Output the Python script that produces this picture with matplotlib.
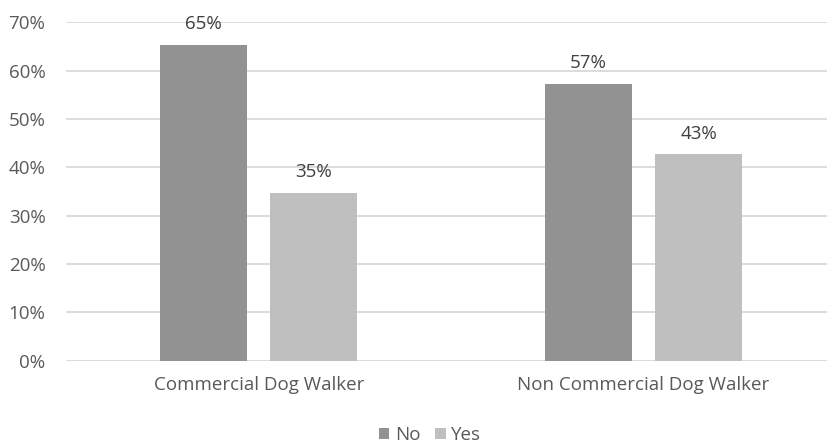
import matplotlib.pyplot as plt
import numpy as np
from matplotlib.ticker import PercentFormatter

categories = ['Commercial Dog Walker', 'Non Commercial Dog Walker']
series_names = ['No', 'Yes']
no_vals = [65.3, 57.3]
yes_vals = [34.7, 42.7]
value_labels = [['65%', '57%'], ['35%', '43%']]

colors = ['#929292', '#bfbfbf']
text_color = '#595959'

plt.rcParams['font.family'] = ['Open Sans', 'DejaVu Sans']

fig = plt.figure(figsize=(8.27, 4.47), dpi=100)
ax = fig.add_axes([66.3 / 827, 0.193, (835.9 - 66.3) / 827, 0.757])

x = np.arange(len(categories))
width = 0.225
offset = 0.143

for i, (vals, name) in enumerate(zip([no_vals, yes_vals], series_names)):
    pos = x + (i * 2 - 1) * offset
    bars = ax.bar(pos, vals, width, color=colors[i], label=name, zorder=3)
    for b, lab in zip(bars, value_labels[i]):
        ax.annotate(lab, (b.get_x() + b.get_width() / 2, b.get_height()),
                    xytext=(0, 8.5), textcoords='offset points',
                    ha='center', va='bottom', fontsize=13.5, color='#404040')

ax.set_xlim(-0.5, 1.5)
ax.set_ylim(0, 70)
ax.set_yticks(np.arange(0, 71, 10))
ax.yaxis.set_major_formatter(PercentFormatter(decimals=0))
ax.set_xticks(x)
ax.set_xticklabels(categories)

ax.grid(axis='y', color='#d9d9d9', linewidth=1.3, zorder=0)
for s in ax.spines.values():
    s.set_visible(False)
ax.tick_params(axis='both', length=0, labelsize=13.5, colors=text_color)
ax.tick_params(axis='y', pad=15)
ax.tick_params(axis='x', pad=11)

fig.legend(loc='lower center', bbox_to_anchor=(430 / 827, -0.015), ncol=2,
           frameon=False, fontsize=13.5, handlelength=0.55, handleheight=0.55,
           handletextpad=0.3, columnspacing=0.8, labelcolor=text_color,
           borderaxespad=0.1)

fig.savefig('out.png', dpi=100)
